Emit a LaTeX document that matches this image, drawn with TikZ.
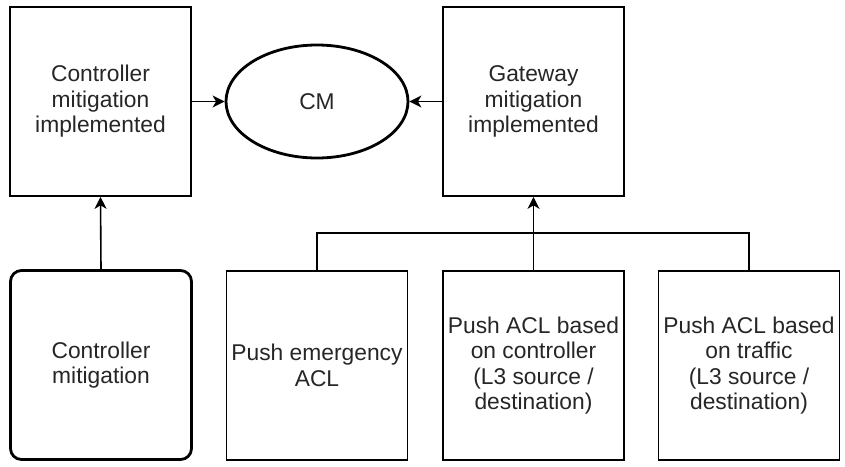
\documentclass[tikz,border=0pt]{standalone}
\usepackage{fontspec}
\setmainfont{Liberation Sans}
\usetikzlibrary{arrows.meta,shapes.geometric}
\begin{document}
\begin{tikzpicture}[x=1pt,y=-1pt,
  every node/.style={font=\fontsize{22.8}{25.5}\selectfont, align=center, inner sep=0pt, text=black!85},
  box/.style={draw, line width=1.7pt, minimum width=181pt, minimum height=189pt},
  roundbox/.style={box, rounded corners=11pt, line width=2.8pt},
  oval/.style={draw, ellipse, line width=2.8pt, minimum width=182pt, minimum height=113pt},
  link/.style={line width=1.6pt, -{Stealth[length=12pt,width=12pt,inset=3.5pt]}},
  busline/.style={line width=1.6pt}]
\useasboundingbox (0,0) rectangle (845,466);

% top row
\node[box] (cmi) at (100.5,101.5) {Controller\\mitigation\\implemented};
\node[oval] (cm) at (317,101.5) {CM};
\node[box] (gmi) at (533.5,101.5) {Gateway\\mitigation\\implemented};

% bottom row
\node[roundbox] (ctl) at (101,365) {Controller\\mitigation};
\node[box] (pea) at (317,365.5) {Push emergency\\ACL};
\node[box] (pac) at (533.5,365.5) {Push ACL based\\on controller\\(L3 source /\\destination)};
\node[box] (pat) at (749,365.5) {Push ACL based\\on traffic\\(L3 source /\\destination)};

\coordinate (bus) at (533.5,233);

% connectors
\draw[link] (cmi.east) -- (cm.west);
\draw[link] (gmi.west) -- (cm.east);
\draw[link] (ctl.north) -- (cmi.south);
\draw[link] (pac.north) -- (gmi.south);
\draw[busline] (pea.north) |- (bus);
\draw[busline] (pat.north) |- (bus);
\end{tikzpicture}
\end{document}
